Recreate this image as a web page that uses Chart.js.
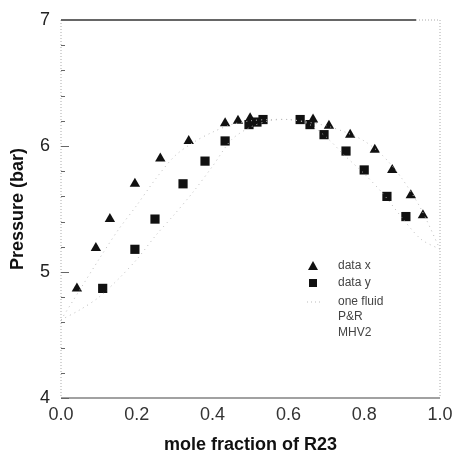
<!DOCTYPE html>
<html>
<head>
<meta charset="utf-8">
<script src="https://cdn.jsdelivr.net/npm/chart.js@4.4.1/dist/chart.umd.min.js"></script>
<style>
  html, body { margin: 0; padding: 0; background: #fff; }
  #wrap { width: 454px; height: 459px; }
</style>
</head>
<body>
<div id="wrap"><canvas id="chart" width="454" height="459"></canvas></div>
<script>
// data x (liquid), triangles
const dataXx = [0.042, 0.092, 0.129, 0.195, 0.262, 0.337, 0.433, 0.467, 0.499, 0.665, 0.707, 0.763, 0.828, 0.874, 0.923, 0.955];
const dataXp = [4.87, 5.19, 5.42, 5.70, 5.90, 6.04, 6.18, 6.20, 6.22, 6.21, 6.16, 6.09, 5.97, 5.81, 5.61, 5.45];
// data y (vapour), squares
const dataYx = [0.110, 0.195, 0.248, 0.322, 0.380, 0.433, 0.496, 0.517, 0.533, 0.631, 0.657, 0.694, 0.752, 0.800, 0.860, 0.910];
const dataYp = [4.87, 5.18, 5.42, 5.70, 5.88, 6.04, 6.17, 6.19, 6.21, 6.21, 6.17, 6.09, 5.96, 5.81, 5.60, 5.44];
// one fluid model, bubble and dew branches
const curveX = [0.0, 0.05, 0.10, 0.15, 0.20, 0.25, 0.30, 0.35, 0.40, 0.45, 0.50, 0.55, 0.60, 0.65, 0.70, 0.75, 0.80, 0.85, 0.90, 0.95, 1.0];
const bubbleP = [4.62, 4.86, 5.10, 5.33, 5.53, 5.74, 5.92, 6.03, 6.11, 6.17, 6.20, 6.21, 6.21, 6.19, 6.16, 6.11, 6.04, 5.92, 5.74, 5.50, 5.18];
const dewP = [4.62, 4.70, 4.80, 4.94, 5.10, 5.29, 5.46, 5.64, 5.84, 6.05, 6.15, 6.20, 6.21, 6.18, 6.07, 5.92, 5.78, 5.62, 5.43, 5.26, 5.18];

const xTicks = [0.0, 0.2, 0.4, 0.6, 0.8, 1.0];
const yLabels = [4, 5, 6, 7];
const legendNames = ['data x', 'data y', 'one fluid', 'P&R', 'MHV2'];

const FONT = "'Liberation Sans', Arial, sans-serif";

function pts(xs, ys) {
    return xs.map((x, i) => ({ x: x, y: ys[i] }));
}

// frame: solid top/bottom, faint dotted left/right, inward minor ticks on y
const framePlugin = {
    id: 'frame',
    afterDatasetsDraw(chart) {
        const { ctx, chartArea: a, scales } = chart;
        ctx.save();
        ctx.strokeStyle = '#333';
        ctx.lineWidth = 1.5;
        ctx.beginPath();
        ctx.moveTo(a.left, a.top); ctx.lineTo(a.right - 24, a.top);
        ctx.stroke();
        ctx.lineWidth = 1.2;
        ctx.strokeStyle = '#444';
        ctx.beginPath();
        ctx.moveTo(a.left, a.bottom); ctx.lineTo(a.right, a.bottom);
        ctx.stroke();
        ctx.lineWidth = 1;
        ctx.setLineDash([1, 2]);
        ctx.strokeStyle = '#aaa';
        ctx.beginPath();
        ctx.moveTo(a.right - 24, a.top); ctx.lineTo(a.right, a.top);
        ctx.moveTo(a.left, a.top); ctx.lineTo(a.left, a.bottom);
        ctx.moveTo(a.right, a.top); ctx.lineTo(a.right, a.bottom);
        ctx.stroke();
        ctx.setLineDash([]);
        ctx.strokeStyle = '#666';
        ctx.beginPath();
        scales.y.ticks.forEach(t => {
            const py = Math.round(scales.y.getPixelForValue(t.value)) + 0.5;
            const major = Math.abs(t.value - Math.round(t.value)) < 1e-6;
            ctx.moveTo(a.left, py); ctx.lineTo(a.left + (major ? 8 : 4), py);
        });
        ctx.stroke();
        ctx.restore();
    }
};

// legend drawn inside the plot area
const legendPlugin = {
    id: 'insideLegend',
    afterDraw(chart) {
        const { ctx } = chart;
        const x0 = 313, tx = 338;
        const rows = [266, 283, 302, 317, 333];
        ctx.save();
        ctx.font = '12px ' + FONT;
        ctx.fillStyle = '#444';
        ctx.textBaseline = 'middle';
        legendNames.forEach((name, i) => ctx.fillText(name, tx, rows[i]));
        ctx.fillStyle = '#111';
        ctx.beginPath();
        ctx.moveTo(x0, rows[0] - 5); ctx.lineTo(x0 + 5, rows[0] + 4); ctx.lineTo(x0 - 5, rows[0] + 4);
        ctx.closePath(); ctx.fill();
        ctx.fillRect(x0 - 4, rows[1] - 4, 8, 8);
        ctx.strokeStyle = '#bbb';
        ctx.setLineDash([1, 3]);
        ctx.beginPath();
        ctx.moveTo(x0 - 6, rows[2]); ctx.lineTo(x0 + 8, rows[2]);
        ctx.stroke();
        ctx.restore();
    }
};

const ctx = document.getElementById('chart').getContext('2d');
const chart = new Chart(ctx, {
    type: 'scatter',
    data: {
        datasets: [
            {
                label: 'one fluid',
                data: pts(curveX, bubbleP),
                showLine: true,
                borderColor: '#bbb',
                borderWidth: 1,
                borderDash: [1, 4],
                pointRadius: 0,
                tension: 0.3
            },
            {
                label: 'one fluid dew',
                data: pts(curveX, dewP),
                showLine: true,
                borderColor: '#bbb',
                borderWidth: 1,
                borderDash: [1, 4],
                pointRadius: 0,
                tension: 0.3
            },
            {
                label: 'data x',
                data: pts(dataXx, dataXp),
                pointStyle: 'triangle',
                pointRadius: 6,
                backgroundColor: '#111',
                borderColor: '#111',
                borderWidth: 0
            },
            {
                label: 'data y',
                data: pts(dataYx, dataYp),
                pointStyle: 'rect',
                pointRadius: 6.5,
                backgroundColor: '#111',
                borderColor: '#111',
                borderWidth: 0
            }
        ]
    },
    options: {
        responsive: false,
        animation: false,
        layout: { padding: { left: 0, right: 14, top: 20, bottom: 0 } },
        plugins: {
            legend: { display: false },
            tooltip: { enabled: false }
        },
        scales: {
            x: {
                type: 'linear',
                min: 0, max: 1,
                afterFit: s => { s.height = 61; s.paddingLeft = 0; s.paddingRight = 0; },
                afterBuildTicks: s => { s.ticks = xTicks.map(v => ({ value: v })); },
                grid: { display: false, drawTicks: false },
                border: { display: false },
                ticks: {
                    padding: 6,
                    color: '#333',
                    font: { family: FONT, size: 18 },
                    callback: v => v.toFixed(1)
                },
                title: {
                    display: true,
                    text: 'mole fraction of R23',
                    color: '#111',
                    font: { family: FONT, size: 18, weight: 'bold' },
                    padding: { top: 0, bottom: 3 }
                }
            },
            y: {
                type: 'linear',
                min: 4, max: 7,
                afterFit: s => { s.width = 61; s.paddingTop = 0; s.paddingBottom = 0; },
                grid: { display: false, drawTicks: false },
                border: { display: false },
                ticks: {
                    stepSize: 0.2,
                    autoSkip: false,
                    padding: 11,
                    color: '#222',
                    font: { family: FONT, size: 18 },
                    callback: v => {
                        const r = Math.round(v);
                        return (Math.abs(v - r) < 1e-6 && yLabels.includes(r)) ? String(r) : '';
                    }
                },
                title: {
                    display: true,
                    text: 'Pressure (bar)',
                    color: '#111',
                    font: { family: FONT, size: 18, weight: 'bold' },
                    padding: { top: 7, bottom: 0 }
                }
            }
        }
    },
    plugins: [framePlugin, legendPlugin]
});
</script>
</body>
</html>
